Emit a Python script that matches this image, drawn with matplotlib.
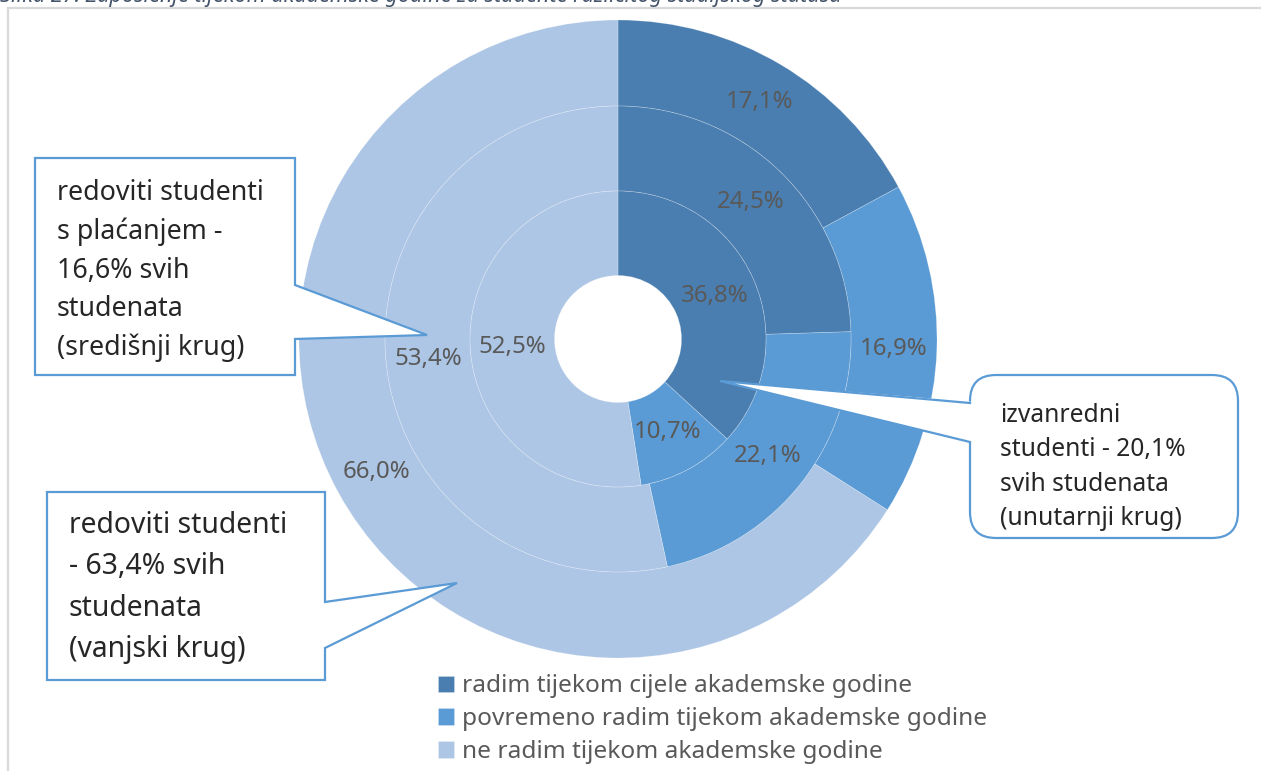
import matplotlib
matplotlib.use('Agg')
import matplotlib.pyplot as plt
from matplotlib.patches import Polygon, FancyBboxPatch

plt.rcParams['font.family'] = ['Noto Sans', 'DejaVu Sans']

# ---------------- data ----------------
categories = ['radim tijekom cijele akademske godine',
              'povremeno radim tijekom akademske godine',
              'ne radim tijekom akademske godine']
outer_vals = [17.1, 16.9, 66.0]    # redoviti studenti (vanjski krug)
middle_vals = [24.5, 22.1, 53.4]   # redoviti studenti s plaćanjem (središnji krug)
inner_vals = [36.8, 10.7, 52.5]    # izvanredni studenti (unutarnji krug)
title = 'Slika 27. Zaposlenje tijekom akademske godine za studente različitog studijskog statusa'
callout_outer = ['redoviti studenti', '- 63,4% svih', 'studenata', '(vanjski krug)']
callout_middle = ['redoviti studenti', 's plaćanjem -', '16,6% svih', 'studenata', '(središnji krug)']
callout_inner = ['izvanredni', 'studenti - 20,1%', 'svih studenata', '(unutarnji krug)']

colors = ['#4A7EB0', '#5B9BD5', '#ADC6E5']
edge_blue = '#5B9BD5'
txt_dark = '#262626'
txt_gray = '#595959'

# ---------------- figure ----------------
W, H = 1261, 771
fig = plt.figure(figsize=(W / 100, H / 100), dpi=100)
fig.patch.set_facecolor('white')

cx, cy, R = 618, 339, 319
r_mid, r_in, r_hole = 233, 148, 63.5
ax = fig.add_axes([(cx - R) / W, (H - cy - R) / H, 2 * R / W, 2 * R / H])


def fmt(p):
    return f'{p:.1f}'.replace('.', ',') + '%'


rings = [(outer_vals, R, R - r_mid),
         (middle_vals, r_mid, r_mid - r_in),
         (inner_vals, r_in, r_in - r_hole)]
legend_handles = None
for vals, rad, width in rings:
    wedges, texts, autotexts = ax.pie(
        vals, radius=rad / R, colors=colors, startangle=90, counterclock=False,
        wedgeprops=dict(width=width / R, edgecolor=(1, 1, 1, 0.3), linewidth=0.5),
        autopct=fmt, pctdistance=(rad - width / 2) / rad,
        textprops=dict(color=txt_gray, fontsize=17.3))
    if legend_handles is None:
        legend_handles = wedges
ax.set_xlim(-1, 1)
ax.set_ylim(-1, 1)
ax.set_aspect('equal')

# ---------------- overlay in pixel coordinates ----------------
ov = fig.add_axes([0, 0, 1, 1])
ov.set_xlim(0, W)
ov.set_ylim(H, 0)
ov.axis('off')
ov.set_zorder(3)

# chart frame (clipped at right and bottom)
ov.plot([8, 8], [H + 5, 8], color='#D9D9D9', lw=1.6, solid_capstyle='projecting')
ov.plot([8, W + 5], [8, 8], color='#D9D9D9', lw=1.6, solid_capstyle='projecting')

# title (cut off at top, as in the reference)
ov.text(0, 2, title, style='italic', color='#44546A', fontsize=15.6,
        ha='left', va='baseline')

# callout: središnji krug
poly = Polygon([(35, 158), (295, 158), (295, 285), (427, 335), (295, 339),
                (295, 375), (35, 375)], closed=True, facecolor='white',
               edgecolor=edge_blue, lw=1.6, joinstyle='miter')
ov.add_patch(poly)
for i, line in enumerate(callout_middle):
    ov.text(57, 200 + i * 38.75, line, fontsize=19.3, color=txt_dark,
            ha='left', va='baseline')

# callout: vanjski krug
poly = Polygon([(47, 492), (325, 492), (325, 602), (457, 583), (325, 648),
                (325, 680), (47, 680)], closed=True, facecolor='white',
               edgecolor=edge_blue, lw=1.6, joinstyle='miter')
ov.add_patch(poly)
for i, line in enumerate(callout_outer):
    ov.text(69, 533 + i * 41.3, line, fontsize=20.4, color=txt_dark,
            ha='left', va='baseline')

# callout: unutarnji krug (rounded)
box = FancyBboxPatch((970, 375), 268, 163,
                     boxstyle='round,pad=0,rounding_size=26',
                     facecolor='white', edgecolor=edge_blue, lw=1.6)
ov.add_patch(box)
tip = (720, 381)
ov.add_patch(Polygon([(974, 402), tip, (974, 443)], closed=True,
                     facecolor='white', edgecolor='none', zorder=box.get_zorder() + 0.1))
ov.plot([970, tip[0], 970], [403, tip[1], 442], color=edge_blue, lw=1.6,
        solid_joinstyle='miter', zorder=box.get_zorder() + 0.2)
for i, line in enumerate(callout_inner):
    ov.text(1000, 422 + i * 34.3, line, fontsize=17.7, color=txt_dark,
            ha='left', va='baseline')

# legend
leg = ov.legend(legend_handles, categories, loc='upper left',
                bbox_to_anchor=(438, 674.5), bbox_transform=ov.transData,
                frameon=False, borderpad=0, borderaxespad=0,
                handlelength=0.66, handleheight=0.66, handletextpad=0.33,
                labelspacing=0.36, prop=dict(size=17.6))
for t in leg.get_texts():
    t.set_color(txt_gray)

fig.savefig('out.png', dpi=100, facecolor='white')
